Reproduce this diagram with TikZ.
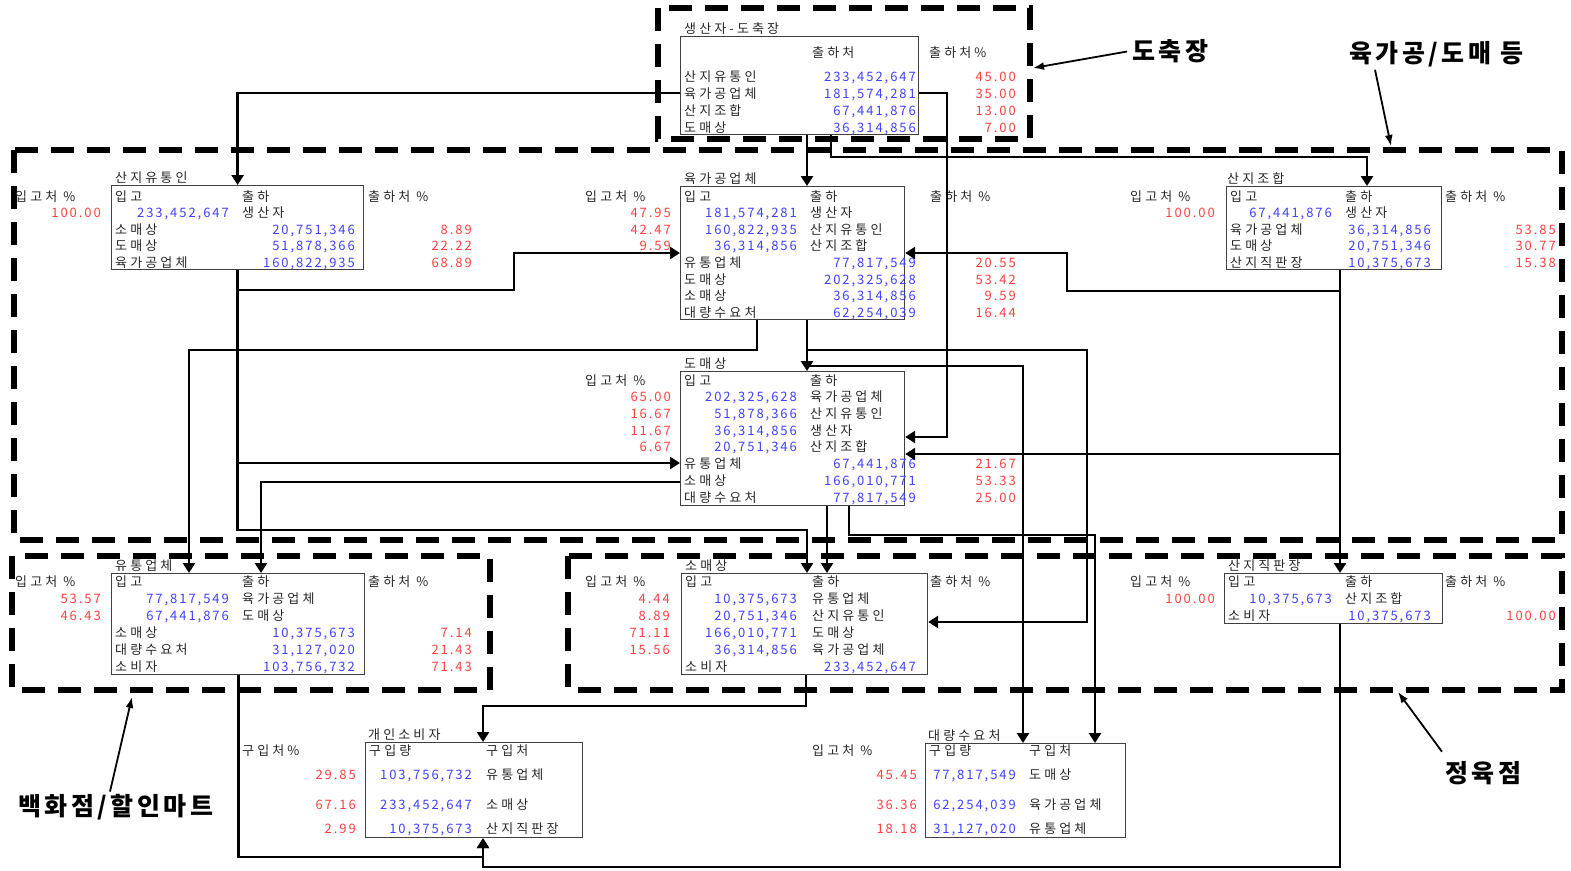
\documentclass[tikz,border=0pt]{standalone}
\usepackage{fontspec}
\setmainfont{Noto Sans CJK KR}[LetterSpace=15]
\newfontfamily\krfont{Noto Sans CJK KR}[LetterSpace=24]
\newfontfamily\bigfont{Noto Sans CJK KR}[LetterSpace=14]
\usepackage{tikz}
\usetikzlibrary{arrows.meta}
\usepackage{xcolor}
\definecolor{numblue}{RGB}{64,64,255}
\definecolor{pctred}{RGB}{255,64,64}

\begin{document}
\begin{tikzpicture}[x=1pt, y=-1pt, font=\fontsize{13}{15}\selectfont,
    lbl/.style={anchor=base west, inner sep=0pt, text=black!85, font=\krfont\fontsize{13}{15}\selectfont},
    num/.style={anchor=base east, inner sep=0pt, text=numblue},
    pct/.style={anchor=base east, inner sep=0pt, text=pctred},
    tbox/.style={draw=black!75, line width=1.2pt, anchor=north west, inner sep=0pt},
    zone/.style={line width=5.5pt, dash pattern=on 23pt off 13pt},
    flow/.style={line width=2.8pt, -{Triangle[length=10pt, width=12pt]}},
    note/.style={line width=1.8pt, -{Latex[length=11pt, width=8pt]}},
    big/.style={anchor=base west, inner sep=0pt, text=black,
                font=\bigfont\fontsize{25}{30}\selectfont\bfseries}]

    \useasboundingbox (0,0) rectangle (1571,870);

    % ==========================================
    % DASHED ZONES
    % ==========================================
    \draw[zone] (658,8) rectangle (1030,139);    % slaughterhouse
    \draw[zone] (14,150) rectangle (1562,540);   % processing / wholesale
    \draw[zone] (12,556) rectangle (490,690);    % department stores
    \draw[zone] (568,556) rectangle (1562,690);  % butcher shops

    % ==========================================
    % TABLE BOXES
    % ==========================================
    \node[tbox, minimum width=238pt, minimum height=98pt] (gs) at (680,36) {};
    \node[tbox, minimum width=252pt, minimum height=84pt] (yt) at (111,185) {};
    \node[tbox, minimum width=224pt, minimum height=133pt] (yg) at (680,186) {};
    \node[tbox, minimum width=215pt, minimum height=83pt] (jh) at (1226,186) {};
    \node[tbox, minimum width=224pt, minimum height=134pt] (dm) at (680,371) {};
    \node[tbox, minimum width=253pt, minimum height=101pt] (ut) at (111,573) {};
    \node[tbox, minimum width=246pt, minimum height=101pt] (sm) at (681,573) {};
    \node[tbox, minimum width=218pt, minimum height=50pt] (jp) at (1224,573) {};
    \node[tbox, minimum width=217pt, minimum height=95pt] (gi) at (365,742) {};
    \node[tbox, minimum width=200pt, minimum height=94pt] (dr) at (925,743) {};

    % ==========================================
    % TABLE TEXTS
    % ==========================================

    % producer - slaughterhouse
    \node[lbl] (gs-t) at (684,33) {생산자-도축장};
    \node[lbl] (gs-h1) at (812,57) {출하처};
    \node[lbl] (gs-h2) at (929,57) {출하처\%};
    \node[lbl] (gs-n1) at (684,81) {산지유통인}; \node[num] (gs-v1) at (916,81) {233,452,647}; \node[pct] (gs-p1) at (1016,81) {45.00};
    \node[lbl] (gs-n2) at (684,98) {육가공업체}; \node[num] (gs-v2) at (916,98) {181,574,281}; \node[pct] (gs-p2) at (1016,98) {35.00};
    \node[lbl] (gs-n3) at (684,115) {산지조합}; \node[num] (gs-v3) at (916,115) {67,441,876}; \node[pct] (gs-p3) at (1016,115) {13.00};
    \node[lbl] (gs-n4) at (684,132) {도매상}; \node[num] (gs-v4) at (916,132) {36,314,856}; \node[pct] (gs-p4) at (1016,132) {7.00};

    % local dealers
    \node[lbl] (yt-t) at (115,182) {산지유통인};
    \node[lbl] (yt-h1) at (115,201) {입고};
    \node[lbl] (yt-h2) at (242,201) {출하};
    \node[lbl] (yt-h3) at (15,201) {입고처 \%};
    \node[lbl] (yt-h4) at (368,201) {출하처 \%};
    \node[num] (yt-v1) at (229,217) {233,452,647}; \node[lbl] (yt-n1) at (242,217) {생산자}; \node[pct] (yt-p1) at (101,217) {100.00};
    \node[lbl] (yt-n2) at (115,234) {소매상}; \node[num] (yt-v2) at (355,234) {20,751,346}; \node[pct] (yt-p2) at (472,234) {8.89};
    \node[lbl] (yt-n3) at (115,250) {도매상}; \node[num] (yt-v3) at (355,250) {51,878,366}; \node[pct] (yt-p3) at (472,250) {22.22};
    \node[lbl] (yt-n4) at (115,267) {육가공업체}; \node[num] (yt-v4) at (355,267) {160,822,935}; \node[pct] (yt-p4) at (472,267) {68.89};

    % meat processors
    \node[lbl] (yg-t) at (684,183) {육가공업체};
    \node[lbl] (yg-h1) at (684,201) {입고};
    \node[lbl] (yg-h2) at (810,201) {출하};
    \node[lbl] (yg-h3) at (585,201) {입고처 \%};
    \node[lbl] (yg-h4) at (930,201) {출하처 \%};
    \node[num] (yg-v1) at (797,217) {181,574,281}; \node[lbl] (yg-n1) at (810,217) {생산자}; \node[pct] (yg-p1) at (671,217) {47.95};
    \node[num] (yg-v2) at (797,234) {160,822,935}; \node[lbl] (yg-n2) at (810,234) {산지유통인}; \node[pct] (yg-p2) at (671,234) {42.47};
    \node[num] (yg-v3) at (797,250) {36,314,856}; \node[lbl] (yg-n3) at (810,250) {산지조합}; \node[pct] (yg-p3) at (671,250) {9.59};
    \node[lbl] (yg-n4) at (684,267) {유통업체}; \node[num] (yg-v4) at (916,267) {77,817,549}; \node[pct] (yg-p4) at (1016,267) {20.55};
    \node[lbl] (yg-n5) at (684,284) {도매상}; \node[num] (yg-v5) at (916,284) {202,325,628}; \node[pct] (yg-p5) at (1016,284) {53.42};
    \node[lbl] (yg-n6) at (684,300) {소매상}; \node[num] (yg-v6) at (916,300) {36,314,856}; \node[pct] (yg-p6) at (1016,300) {9.59};
    \node[lbl] (yg-n7) at (684,317) {대량수요처}; \node[num] (yg-v7) at (916,317) {62,254,039}; \node[pct] (yg-p7) at (1016,317) {16.44};

    % local cooperatives
    \node[lbl] (jh-t) at (1227,183) {산지조합};
    \node[lbl] (jh-h1) at (1230,201) {입고};
    \node[lbl] (jh-h2) at (1345,201) {출하};
    \node[lbl] (jh-h3) at (1130,201) {입고처 \%};
    \node[lbl] (jh-h4) at (1445,201) {출하처 \%};
    \node[num] (jh-v1) at (1332,217) {67,441,876}; \node[lbl] (jh-n1) at (1345,217) {생산자}; \node[pct] (jh-p1) at (1215,217) {100.00};
    \node[lbl] (jh-n2) at (1230,234) {육가공업체}; \node[num] (jh-v2) at (1431,234) {36,314,856}; \node[pct] (jh-p2) at (1556,234) {53.85};
    \node[lbl] (jh-n3) at (1230,250) {도매상}; \node[num] (jh-v3) at (1431,250) {20,751,346}; \node[pct] (jh-p3) at (1556,250) {30.77};
    \node[lbl] (jh-n4) at (1230,267) {산지직판장}; \node[num] (jh-v4) at (1431,267) {10,375,673}; \node[pct] (jh-p4) at (1556,267) {15.38};

    % wholesalers
    \node[lbl] (dm-t) at (684,368) {도매상};
    \node[lbl] (dm-h1) at (684,385) {입고};
    \node[lbl] (dm-h2) at (810,385) {출하};
    \node[lbl] (dm-h3) at (585,385) {입고처 \%};
    \node[num] (dm-v1) at (797,401) {202,325,628}; \node[lbl] (dm-n1) at (810,401) {육가공업체}; \node[pct] (dm-p1) at (671,401) {65.00};
    \node[num] (dm-v2) at (797,418) {51,878,366}; \node[lbl] (dm-n2) at (810,418) {산지유통인}; \node[pct] (dm-p2) at (671,418) {16.67};
    \node[num] (dm-v3) at (797,435) {36,314,856}; \node[lbl] (dm-n3) at (810,435) {생산자}; \node[pct] (dm-p3) at (671,435) {11.67};
    \node[num] (dm-v4) at (797,451) {20,751,346}; \node[lbl] (dm-n4) at (810,451) {산지조합}; \node[pct] (dm-p4) at (671,451) {6.67};
    \node[lbl] (dm-n5) at (684,468) {유통업체}; \node[num] (dm-v5) at (916,468) {67,441,876}; \node[pct] (dm-p5) at (1016,468) {21.67};
    \node[lbl] (dm-n6) at (684,485) {소매상}; \node[num] (dm-v6) at (916,485) {166,010,771}; \node[pct] (dm-p6) at (1016,485) {53.33};
    \node[lbl] (dm-n7) at (684,502) {대량수요처}; \node[num] (dm-v7) at (916,502) {77,817,549}; \node[pct] (dm-p7) at (1016,502) {25.00};

    % retail chains
    \node[lbl] (ut-t) at (115,570) {유통업체};
    \node[lbl] (ut-h1) at (115,586) {입고};
    \node[lbl] (ut-h2) at (242,586) {출하};
    \node[lbl] (ut-h3) at (15,586) {입고처 \%};
    \node[lbl] (ut-h4) at (368,586) {출하처 \%};
    \node[num] (ut-v1) at (229,603) {77,817,549}; \node[lbl] (ut-n1) at (242,603) {육가공업체}; \node[pct] (ut-p1) at (101,603) {53.57};
    \node[num] (ut-v2) at (229,620) {67,441,876}; \node[lbl] (ut-n2) at (242,620) {도매상}; \node[pct] (ut-p2) at (101,620) {46.43};
    \node[lbl] (ut-n3) at (115,637) {소매상}; \node[num] (ut-v3) at (355,637) {10,375,673}; \node[pct] (ut-p3) at (472,637) {7.14};
    \node[lbl] (ut-n4) at (115,654) {대량수요처}; \node[num] (ut-v4) at (355,654) {31,127,020}; \node[pct] (ut-p4) at (472,654) {21.43};
    \node[lbl] (ut-n5) at (115,671) {소비자}; \node[num] (ut-v5) at (355,671) {103,756,732}; \node[pct] (ut-p5) at (472,671) {71.43};

    % retailers
    \node[lbl] (sm-t) at (685,570) {소매상};
    \node[lbl] (sm-h1) at (685,586) {입고};
    \node[lbl] (sm-h2) at (812,586) {출하};
    \node[lbl] (sm-h3) at (585,586) {입고처 \%};
    \node[lbl] (sm-h4) at (930,586) {출하처 \%};
    \node[num] (sm-v1) at (797,603) {10,375,673}; \node[lbl] (sm-n1) at (812,603) {유통업체}; \node[pct] (sm-p1) at (670,603) {4.44};
    \node[num] (sm-v2) at (797,620) {20,751,346}; \node[lbl] (sm-n2) at (812,620) {산지유통인}; \node[pct] (sm-p2) at (670,620) {8.89};
    \node[num] (sm-v3) at (797,637) {166,010,771}; \node[lbl] (sm-n3) at (812,637) {도매상}; \node[pct] (sm-p3) at (670,637) {71.11};
    \node[num] (sm-v4) at (797,654) {36,314,856}; \node[lbl] (sm-n4) at (812,654) {육가공업체}; \node[pct] (sm-p4) at (670,654) {15.56};
    \node[lbl] (sm-n5) at (685,671) {소비자}; \node[num] (sm-v5) at (916,671) {233,452,647};

    % direct sales shops
    \node[lbl] (jp-t) at (1228,570) {산지직판장};
    \node[lbl] (jp-h1) at (1228,586) {입고};
    \node[lbl] (jp-h2) at (1345,586) {출하};
    \node[lbl] (jp-h3) at (1130,586) {입고처 \%};
    \node[lbl] (jp-h4) at (1445,586) {출하처 \%};
    \node[num] (jp-v1) at (1332,603) {10,375,673}; \node[lbl] (jp-n1) at (1345,603) {산지조합}; \node[pct] (jp-p1) at (1215,603) {100.00};
    \node[lbl] (jp-n2) at (1228,620) {소비자}; \node[num] (jp-v2) at (1431,620) {10,375,673}; \node[pct] (jp-p2) at (1556,620) {100.00};

    % consumers
    \node[lbl] (gi-t) at (368,739) {개인소비자};
    \node[lbl] (gi-h1) at (369,755) {구입량};
    \node[lbl] (gi-h2) at (486,755) {구입처};
    \node[lbl] (gi-h3) at (242,755) {구입처\%};
    \node[num] (gi-v1) at (472,779) {103,756,732}; \node[lbl] (gi-n1) at (486,779) {유통업체}; \node[pct] (gi-p1) at (356,779) {29.85};
    \node[num] (gi-v2) at (472,809) {233,452,647}; \node[lbl] (gi-n2) at (486,809) {소매상}; \node[pct] (gi-p2) at (356,809) {67.16};
    \node[num] (gi-v3) at (472,833) {10,375,673}; \node[lbl] (gi-n3) at (486,833) {산지직판장}; \node[pct] (gi-p3) at (356,833) {2.99};

    % bulk buyers
    \node[lbl] (dr-t) at (928,740) {대량수요처};
    \node[lbl] (dr-h1) at (929,755) {구입량};
    \node[lbl] (dr-h2) at (1029,755) {구입처};
    \node[lbl] (dr-h3) at (812,755) {입고처 \%};
    \node[num] (dr-v1) at (1016,779) {77,817,549}; \node[lbl] (dr-n1) at (1029,779) {도매상}; \node[pct] (dr-p1) at (917,779) {45.45};
    \node[num] (dr-v2) at (1016,809) {62,254,039}; \node[lbl] (dr-n2) at (1029,809) {육가공업체}; \node[pct] (dr-p2) at (917,809) {36.36};
    \node[num] (dr-v3) at (1016,833) {31,127,020}; \node[lbl] (dr-n3) at (1029,833) {유통업체}; \node[pct] (dr-p3) at (917,833) {18.18};

    % ==========================================
    % FLOWS BETWEEN BOXES
    % ==========================================
    \draw[flow] (gs.west |- 0,93) -| (yt.north);
    \draw[flow] (gs.east |- 0,93) -| (947,437) -- (dm.east |- 0,437);
    \draw[flow] (gs.south -| 807,0) -- (yg.north -| 807,0);
    \draw[flow] (gs.south -| 831,0) |- (1367,157) -- (jh.north -| 1367,0);

    \draw[flow] (yt.south) |- (514,290) |- (yg.west |- 0,253);
    \draw[flow] (yt.south) |- (dm.west |- 0,463);
    \draw[flow] (yt.south) |- (807,530) -- (sm.north -| 807,0);

    \draw[flow] (yg.south -| 757,0) |- (189,350) -- (ut.north -| 189,0);
    \draw[flow] (yg.south -| 807,0) -- (dm.north -| 807,0);
    \draw[flow] (yg.south -| 807,0) |- (1087,350) |- (sm.east |- 0,622);
    \draw[flow] (yg.south -| 807,0) |- (1023,366) -- (dr.north -| 1023,0);

    \draw[flow] (jh.south -| 1340,0) |- (1067,291) |- (yg.east |- 0,253);
    \draw[flow] (jh.south -| 1340,0) |- (dm.east |- 0,454);
    \draw[flow] (jh.south -| 1340,0) -- (jp.north -| 1340,0);

    \draw[flow] (dm.west |- 0,482) -| (ut.north -| 261,0);
    \draw[flow] (dm.south -| 827,0) -- (sm.north -| 827,0);
    \draw[flow] (dm.south -| 849,0) |- (1095,535) -- (dr.north -| 1095,0);

    \draw[flow] (ut.south) |- (483,857) -- (gi.south -| 483,0);
    \draw[flow] (sm.south -| 806,0) |- (483,706) -- (gi.north -| 483,0);
    \draw[flow] (jp.south -| 1340,0) |- (483,867) -- (gi.south -| 483,0);

    % ==========================================
    % ZONE LABELS
    % ==========================================
    \node[big] (lb-dc) at (1132,60) {도축장};
    \node[big] (lb-yg) at (1349,62) {육가공/도매 등};
    \node[big] (lb-bh) at (18,815) {백화점/할인마트};
    \node[big] (lb-jy) at (1445,782) {정육점};

    \coordinate (dc-tip) at (1033,68);
    \coordinate (yg-tip) at (1391,146);
    \coordinate (bh-tip) at (132,697);
    \coordinate (jy-tip) at (1398,692);

    \draw[note, shorten <=5pt] (lb-dc.west) -- (dc-tip);
    \draw[note] ([xshift=26pt, yshift=-3pt]lb-yg.south west) -- (yg-tip);
    \draw[note] ([xshift=92pt, yshift=2pt]lb-bh.north west) -- (bh-tip);
    \draw[note] ([xshift=-3pt, yshift=9pt]lb-jy.north west) -- (jy-tip);

\end{tikzpicture}
\end{document}
